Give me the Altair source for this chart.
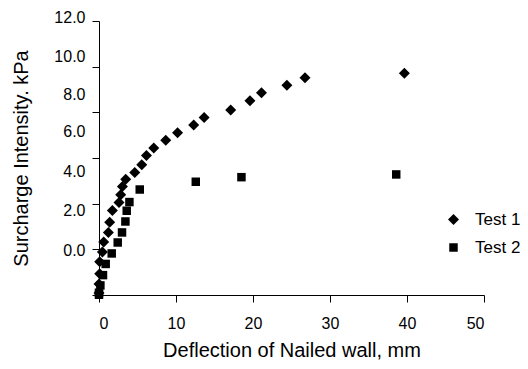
import altair as alt
import pandas as pd

# Test 1 (diamonds)
t1_x = [0.0, 0.0, 0.09, 0.09, 0.44, 0.61, 1.22, 1.39, 1.74, 2.6, 2.82, 3.04, 3.47, 4.64, 5.55,
        6.16, 7.11, 8.67, 10.2, 12.3, 13.65, 17.1, 19.6, 21.1, 24.4, 26.75, 39.66]
t1_y = [0.09, 0.48, 0.93, 1.46, 1.88, 2.32, 2.74, 3.19, 3.70, 4.05, 4.39, 4.75, 5.07, 5.36, 5.70,
        6.11, 6.44, 6.78, 7.11, 7.44, 7.77, 8.10, 8.51, 8.86, 9.19, 9.52, 9.71]
# Test 2 (squares)
t2_x = [0.0, 0.0, 0.18, 0.52, 0.87, 1.65, 2.43, 2.99, 3.43, 3.6, 3.95, 5.29, 12.57, 18.5, 38.6]
t2_y = [0.01, 0.1, 0.42, 0.87, 1.36, 1.82, 2.30, 2.74, 3.22, 3.69, 4.07, 4.62, 4.96, 5.16, 5.28]

series = ["Test 1", "Test 2"]
x_ticks = [0, 10, 20, 30, 40, 50]
y_ticks = [0, 2, 4, 6, 8, 10, 12]

df = pd.concat([
    pd.DataFrame({"x": t1_x, "y": t1_y, "series": series[0]}),
    pd.DataFrame({"x": t2_x, "y": t2_y, "series": series[1]}),
])

FONT = "Liberation Sans"

label_offset = {
    "condition": [
        {"test": "datum.value == 12", "value": -4},
        {"test": "datum.value == 10", "value": -10},
        {"test": "datum.value == 8", "value": -18},
        {"test": "datum.value == 6", "value": -27},
        {"test": "datum.value == 4", "value": -32},
        {"test": "datum.value == 2", "value": -39},
    ],
    "value": -45,
}

legend_kw = dict(title=None, orient="none", legendX=346, legendY=190,
                 labelFontSize=17, labelOffset=13, rowPadding=10, padding=0)

chart = alt.Chart(df).mark_point(filled=True, opacity=1, color="black").encode(
    x=alt.X("x:Q", scale=alt.Scale(domain=[0, 50], nice=False),
            axis=alt.Axis(values=x_ticks, title="Deflection of Nailed wall, mm", grid=False,
                          tickSize=7, labelPadding=13, titlePadding=9)),
    y=alt.Y("y:Q", scale=alt.Scale(domain=[0, 12], nice=False),
            axis=alt.Axis(values=y_ticks, title="Surcharge Intensity. kPa", grid=False,
                          format=".1f", tickSize=7, labelPadding=7, titlePadding=22,
                          labelOffset=label_offset)),
    shape=alt.Shape("series:N", scale=alt.Scale(domain=series, range=["diamond", "square"]),
                    legend=alt.Legend(symbolFillColor="black", symbolStrokeColor="black", **legend_kw)),
    size=alt.Size("series:N", scale=alt.Scale(domain=series, range=[121, 72]),
                  legend=alt.Legend(**legend_kw)),
).properties(
    width=385, height=274,
    autosize=alt.AutoSizeParams(type="none"),
    padding={"left": 91, "top": 13, "right": 36, "bottom": 66},
).configure_view(stroke=None).configure_axis(
    domainColor="black", tickColor="black", labelColor="black", titleColor="black",
    labelFont=FONT, titleFont=FONT, labelFontSize=16, titleFontSize=20,
    titleFontWeight="normal", domainWidth=1, tickWidth=1,
).configure_legend(labelFont=FONT, labelColor="black")

chart.save("out.html", embed_options={"renderer": "svg", "actions": False})
